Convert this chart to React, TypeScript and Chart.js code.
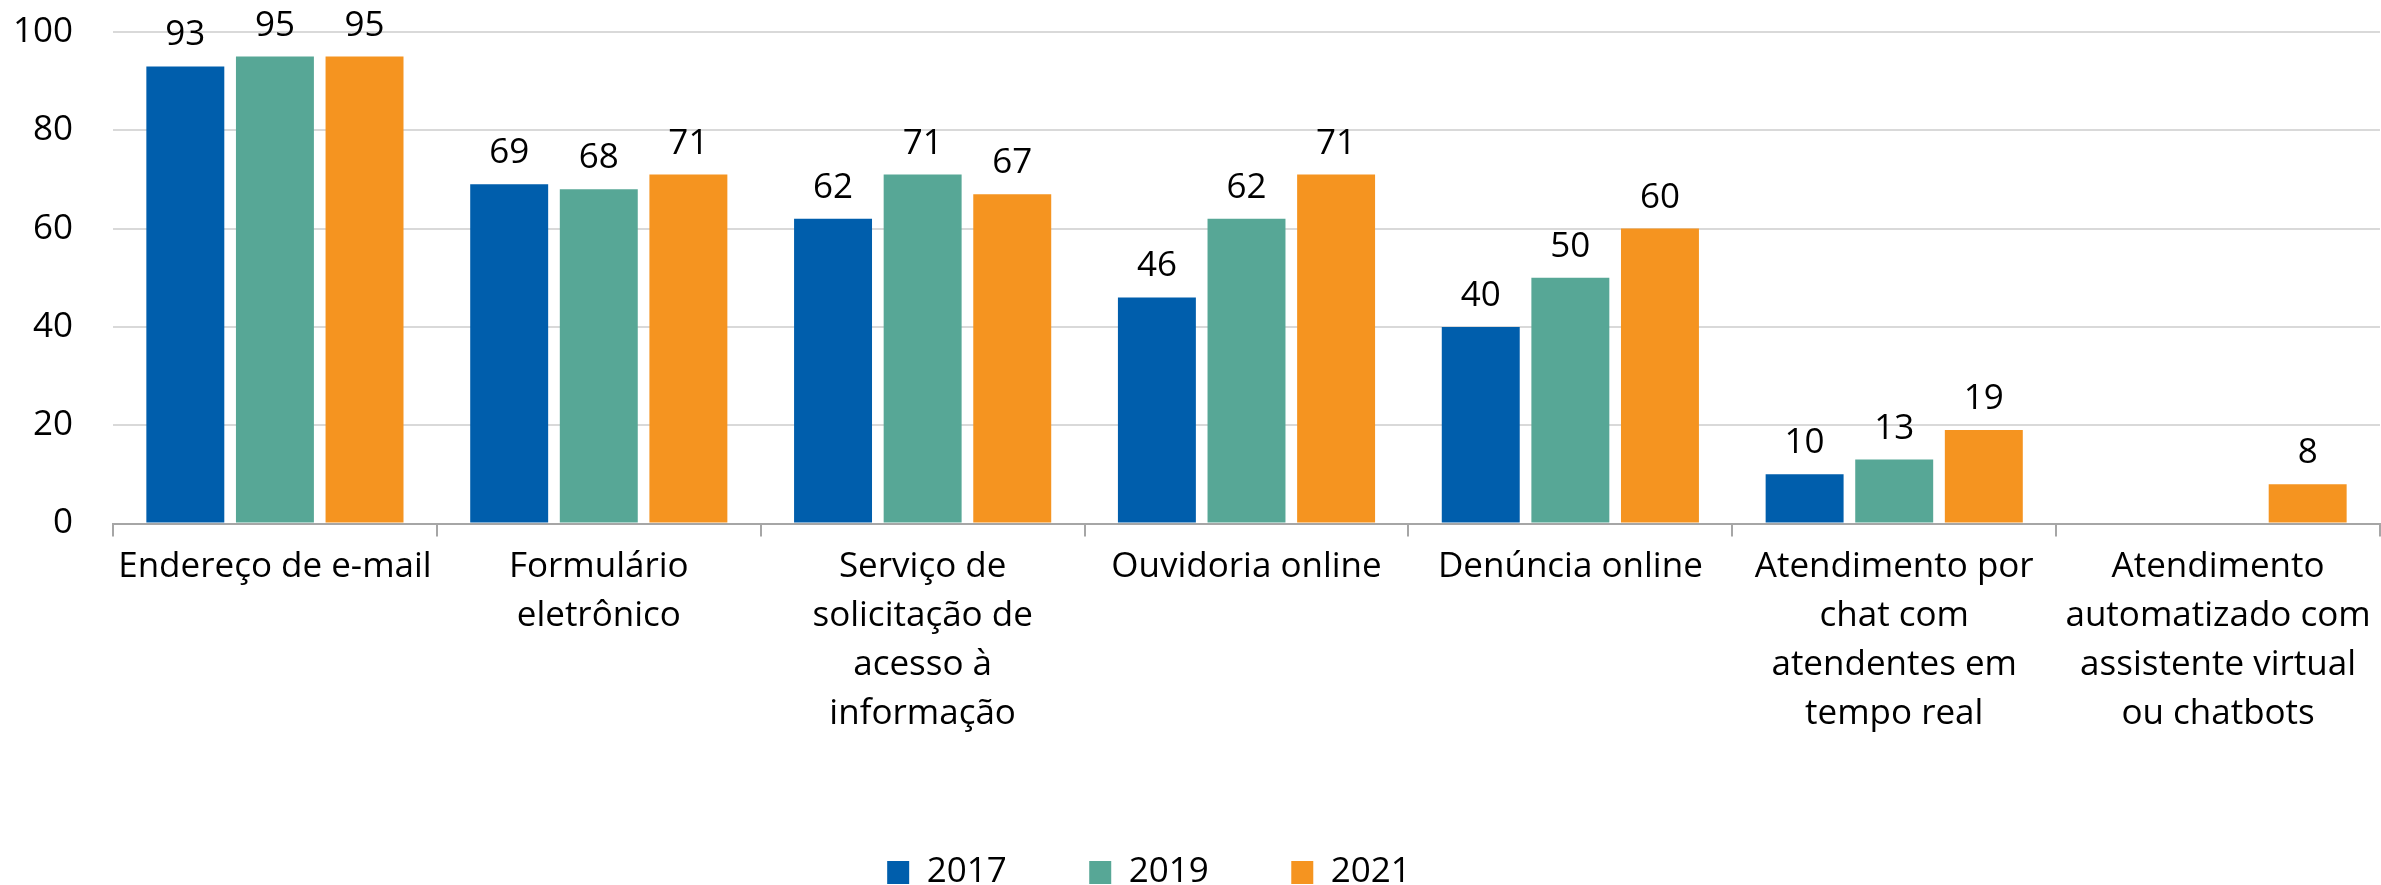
import React, { useEffect, useRef } from "react";
import { Chart, registerables } from "chart.js";

Chart.register(...registerables);

const categories: (string | string[])[] = [
  "Endereço de e-mail",
  ["Formulário", "eletrônico"],
  ["Serviço de", "solicitação de", "acesso à", "informação"],
  "Ouvidoria online",
  "Denúncia online",
  ["Atendimento por", "chat com", "atendentes em", "tempo real"],
  ["Atendimento", "automatizado com", "assistente virtual", "ou chatbots"],
];

const seriesNames = ["2017", "2019", "2021"];
const values2017: (number | null)[] = [93, 69, 62, 46, 40, 10, null];
const values2019: (number | null)[] = [95, 68, 71, 62, 50, 13, null];
const values2021: (number | null)[] = [95, 71, 67, 71, 60, 19, 8];
const seriesColors = ["#005eac", "#57a796", "#f59420"];
const yTicks = [0, 20, 40, 60, 80, 100];

const FONT = "'Open Sans', 'Noto Sans', sans-serif";
const FS = 35;

const valueLabels = {
  id: "valueLabels",
  afterDatasetsDraw(chart: any) {
    const ctx = chart.ctx;
    ctx.save();
    ctx.font = `${FS}px ${FONT}`;
    ctx.fillStyle = "#000";
    ctx.textAlign = "center";
    ctx.textBaseline = "alphabetic";
    chart.data.datasets.forEach((ds: any, i: number) => {
      const meta = chart.getDatasetMeta(i);
      meta.data.forEach((bar: any, j: number) => {
        const v = ds.data[j];
        if (v === null || v === undefined) return;
        ctx.fillText(String(v), bar.x, bar.y - 21);
      });
    });
    ctx.restore();
  },
};

const legendShift = {
  id: "legendShift",
  afterLayout(chart: any) {
    if (chart.legend) {
      chart.legend.right -= 82;
    }
  },
};

export default function App() {
  const ref = useRef<HTMLCanvasElement | null>(null);

  useEffect(() => {
    if (!ref.current) return;
    Chart.defaults.font.family = FONT;
    const chart = new Chart(ref.current, {
      type: "bar",
      data: {
        labels: categories,
        datasets: [values2017, values2019, values2021].map((d, i) => ({
          label: seriesNames[i],
          data: d,
          backgroundColor: seriesColors[i],
          borderWidth: 0,
          categoryPercentage: 0.83,
          barPercentage: 0.87,
        })),
      },
      options: {
        responsive: false,
        animation: false,
        layout: { padding: { top: 32, left: 0, right: 1, bottom: 0 } },
        plugins: {
          tooltip: { enabled: false },
          legend: {
            position: "bottom",
            labels: {
              boxWidth: 22,
              boxHeight: 23,
              padding: 82.5,
              color: "#000",
              font: { size: FS, family: FONT },
            },
          },
        },
        scales: {
          x: {
            grid: {
              display: true,
              drawOnChartArea: false,
              drawTicks: true,
              tickLength: 13,
              color: "#a6a6a6",
              lineWidth: 2,
              offset: true,
            },
            border: { display: true, color: "#a6a6a6", width: 2 },
            ticks: {
              color: "#000",
              padding: 6,
              maxRotation: 0,
              autoSkip: false,
              font: { size: FS, family: FONT, lineHeight: 1.4 },
            },
            afterFit(scale: any) {
              scale.height = 249;
            },
          },
          y: {
            min: 0,
            max: 100,
            afterBuildTicks(scale: any) {
              scale.ticks = yTicks.map((v) => ({ value: v }));
            },
            grid: {
              color: "#d9d9d9",
              lineWidth: 2,
              drawTicks: false,
              tickLength: 0,
            },
            border: { display: false },
            ticks: {
              color: "#000",
              padding: 40,
              font: { size: FS, family: FONT },
            },
            afterFit(scale: any) {
              scale.width = 113;
              scale.paddingTop = 0;
              scale.paddingBottom = 0;
            },
          },
        },
      },
      plugins: [valueLabels, legendShift],
    });
    return () => chart.destroy();
  }, []);

  return (
    <div
      style={{
        position: "fixed",
        left: 0,
        top: 0,
        width: 2381,
        height: 885,
        overflow: "hidden",
        background: "#fff",
      }}
    >
      <canvas
        ref={ref}
        width={2381}
        height={900}
        style={{ width: 2381, height: 900, display: "block" }}
      />
    </div>
  );
}
